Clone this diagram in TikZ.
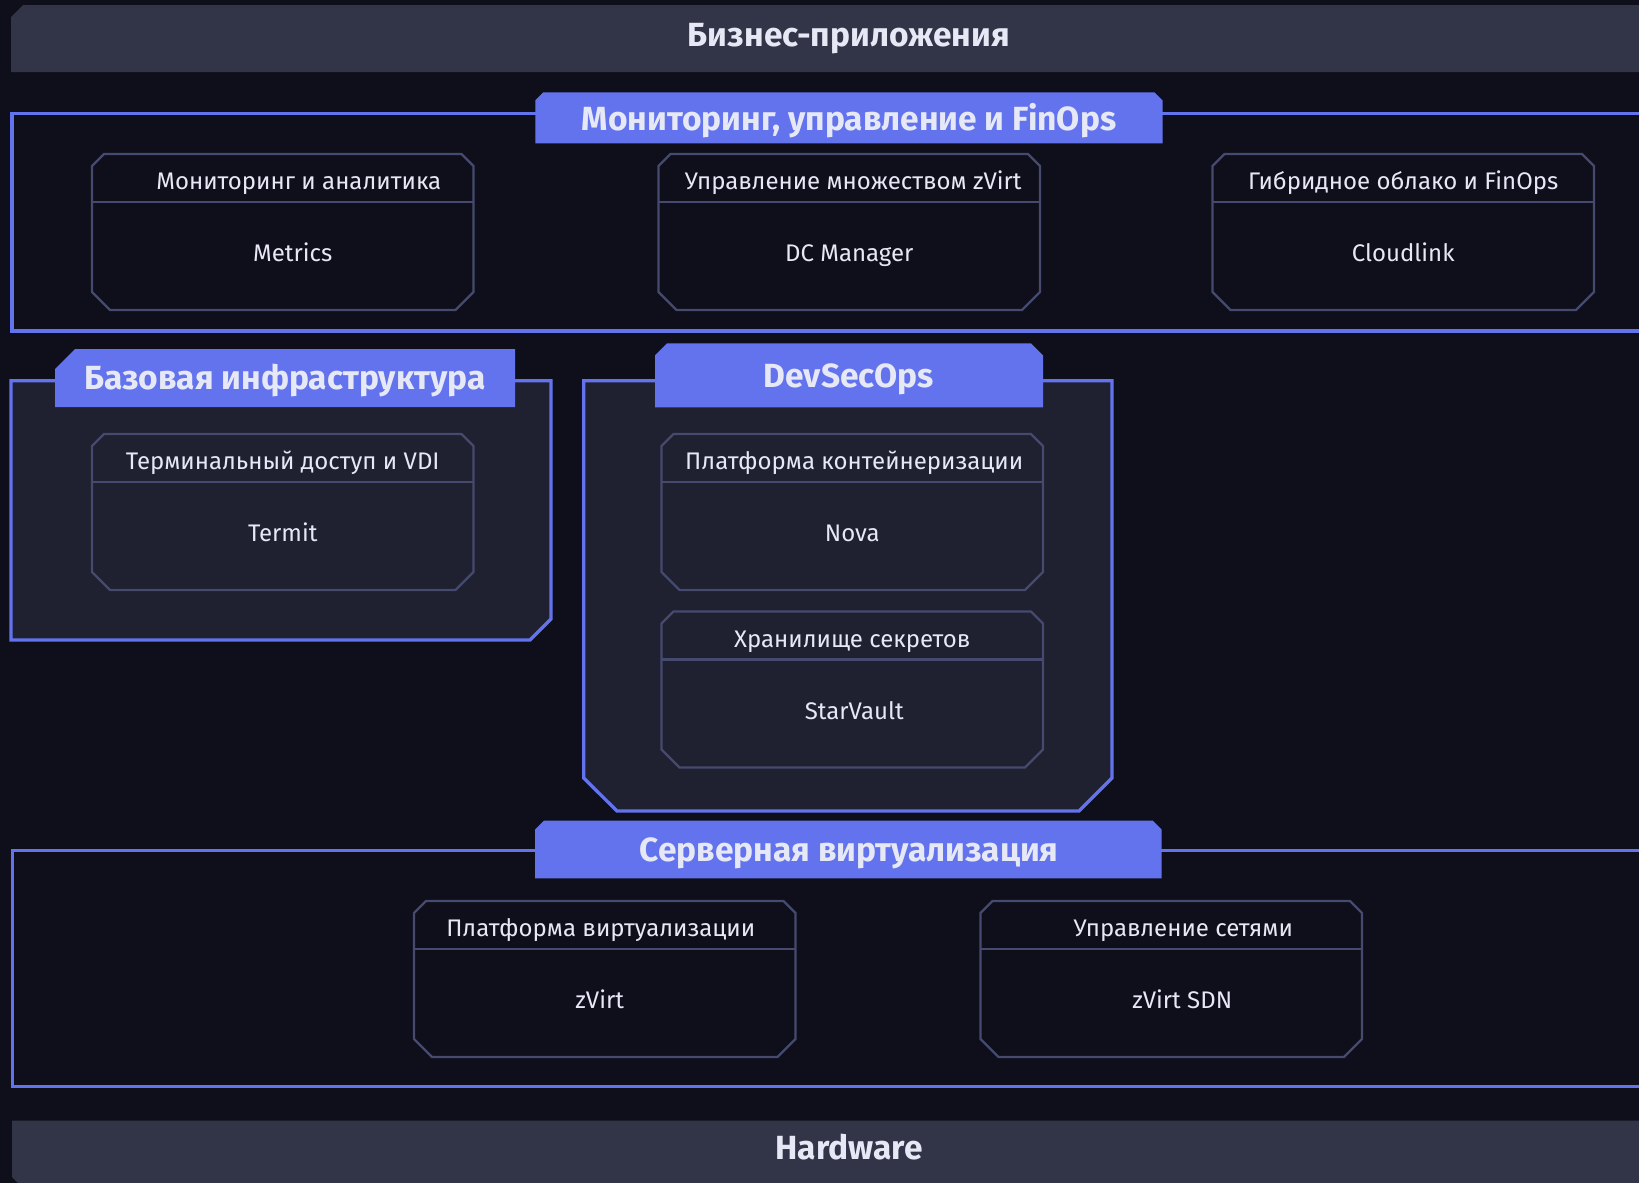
\documentclass[tikz,border=0pt]{standalone}
\usepackage{fontspec}
\setmainfont{Fira Sans}
\definecolor{bg}{HTML}{0E0F1A}
\definecolor{barc}{HTML}{323448}
\definecolor{accent}{HTML}{6373ED}
\definecolor{panel}{HTML}{1F2030}
\definecolor{edge}{HTML}{454A6E}
\definecolor{ink}{HTML}{E6E9F5}
\tikzset{
  frameline/.style={draw=accent, line width=3.3pt},
  tabshape/.style={fill=accent},
  barshape/.style={fill=barc},
  boxline/.style={draw=edge, line width=2.2pt, line join=miter},
  hdr/.style={text=ink, font=\fontsize{24}{27}\selectfont, inner sep=0pt, text height=17pt, text depth=0pt, anchor=center},
  bodytxt/.style={hdr},
  ttl/.style={text=ink, font=\fontsize{33.5}{36}\selectfont\bfseries, inner sep=0pt, text height=23pt, text depth=0pt, anchor=center},
}
% #1 name, #2 x, #3 y, #4 fill, #5 header dx, #6 header, #7 body dx, #8 body
\newcommand\modbox[8]{%
  \filldraw[boxline, fill=#4]
    ({#2},{#3+12}) -- ({#2+12},{#3}) -- ({#2+381.5-12},{#3}) -- ({#2+381.5},{#3+12})
    -- ({#2+381.5},{#3+156-18}) -- ({#2+381.5-18},{#3+156}) -- ({#2+18},{#3+156})
    -- ({#2},{#3+156-18}) -- cycle;
  \draw[boxline] ({#2},{#3+48}) -- ({#2+381.5},{#3+48});
  \node[hdr] (#1-h) at ({#2+190.75+#5},{#3+27}) {#6};
  \node[bodytxt] (#1-b) at ({#2+190.75+#7},{#3+99}) {#8};
}
\begin{document}
\begin{tikzpicture}[x=1pt,y=-1pt]
\useasboundingbox (0,0) rectangle (1639,1183);
\fill[bg] (0,0) rectangle (1639,1183);

% top bar
\fill[barshape] (11,17) -- (23,5) -- (1639,5) -- (1639,72) -- (11,72) -- cycle;
\node[ttl] (biz) at (849,34.5) {Бизнес-приложения};

% monitoring frame
\draw[frameline] (1645,113.3) -- (12,113.3) -- (12,331) -- (1645,331);
\fill[tabshape] (535.3,143.3) -- (535.3,100.3) -- (543.3,92.3) -- (1154.5,92.3) -- (1162.5,100.3) -- (1162.5,143.3) -- cycle;
\node[ttl] (mon-t) at (849,119) {Мониторинг, управление и FinOps};

\modbox{mon}{92}{154}{bg}{16}{Мониторинг и аналитика}{10}{Metrics}
\modbox{dcm}{658.5}{154}{bg}{4}{Управление множеством zVirt}{0}{DC Manager}
\modbox{cl}{1212.5}{154}{bg}{0}{Гибридное облако и FinOps}{0}{Cloudlink}

% base infrastructure
\filldraw[frameline, fill=panel] (11,380.7) -- (551,380.7) -- (551,619) -- (530,640) -- (11,640) -- cycle;
\fill[tabshape] (55,407) -- (55,369) -- (75,349) -- (515,349) -- (515,407) -- cycle;
\node[ttl] (base-t) at (285,378) {Базовая инфраструктура};
\modbox{term}{92}{434}{panel}{0}{Терминальный доступ и VDI}{0}{Termit}

% devsecops
\filldraw[frameline, fill=panel] (583.7,380.7) -- (1112,380.7) -- (1112,778) -- (1079,811) -- (617,811) -- (583.7,778) -- cycle;
\fill[tabshape] (655,407.3) -- (655,355.3) -- (667,343.3) -- (1031,343.3) -- (1043,355.3) -- (1043,407.3) -- cycle;
\node[ttl] (dso-t) at (849,376) {DevSecOps};
\modbox{nova}{661.5}{434}{panel}{2}{Платформа контейнеризации}{0}{Nova}
\modbox{sv}{661.5}{611.5}{panel}{0}{Хранилище секретов}{2}{StarVault}

% server virtualization
\draw[frameline] (1645,850.7) -- (12.5,850.7) -- (12.5,1086.7) -- (1645,1086.7);
\fill[tabshape] (535,878.3) -- (535,829.7) -- (544,820.7) -- (1152.7,820.7) -- (1161.7,829.7) -- (1161.7,878.3) -- cycle;
\node[ttl] (srv-t) at (849,850) {Серверная виртуализация};
\modbox{zv}{414}{901}{bg}{-4}{Платформа виртуализации}{-5}{zVirt}
\modbox{sdn}{980.5}{901}{bg}{12}{Управление сетями}{11}{zVirt SDN}

% hardware bar
\fill[barshape] (12,1120.7) -- (1639,1120.7) -- (1639,1183) -- (18,1183) -- (12,1177) -- cycle;
\node[ttl] (hw) at (849,1148) {Hardware};
\end{tikzpicture}
\end{document}
